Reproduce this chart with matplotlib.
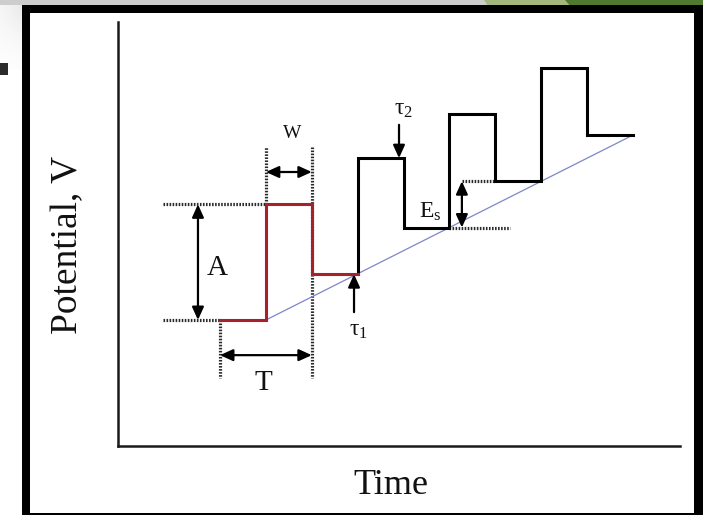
import numpy as np
import matplotlib
matplotlib.use("Agg")
import matplotlib.pyplot as plt
from matplotlib.patches import Rectangle, Polygon

plt.rcParams['font.family'] = ['Liberation Serif', 'DejaVu Serif']
plt.rcParams['mathtext.fontset'] = 'custom'
plt.rcParams['mathtext.rm'] = 'Liberation Serif'
plt.rcParams['mathtext.it'] = 'Liberation Serif'

# ---- data (time in half-periods, potential in step units) ----
step_times = [0, 1, 2, 3, 4, 5, 6, 7, 8, 9]
base_levels = [0, 1, 2, 3, 4]
pulse_levels = [2.5, 3.5, 4.45, 5.45]
ramp_t = [1, 9]
ramp_E = [0, 4]

# dotted guide lines
guide_h = [(2.5, -1.24, 1.0), (0.0, -1.24, 0.0), (2.0, 5.0, 6.32), (3.0, 5.27, 6.0)]
guide_v = [(0.0, 0.0, -1.25), (1.0, 2.5, 3.74), (2.0, 3.74, -1.25)]

# double arrows: (x0, y0, x1, y1)
dbl_arrows = [(1.0, 3.2, 2.0, 3.2), (-0.48, 0.0, -0.48, 2.5),
              (0.0, -0.76, 2.0, -0.76), (5.27, 2.0, 5.27, 3.0)]
# single arrows (from, to)
sgl_arrows = [((2.92, 0.17), (2.92, 0.99)), ((3.90, 4.22), (3.90, 3.50))]

labels = [("W", 1.57, 4.04, 14), ("A", -0.065, 1.12, 21), ("T", 0.94, -1.36, 21),
          (r"E$_\mathrm{s}$", 4.58, 2.34, 17), (r"$\tau_1$", 3.02, -0.22, 17),
          (r"$\tau_2$", 3.99, 4.56, 17)]

# ---- build waveform ----
wt, we = [], []
for k, b in enumerate(base_levels):
    t0 = step_times[2 * k]
    wt += [t0, step_times[2 * k + 1]]
    we += [b, b]
    if k < len(pulse_levels):
        wt += [step_times[2 * k + 1], step_times[2 * k + 2]]
        we += [pulse_levels[k], pulse_levels[k]]
wt = np.array(wt); we = np.array(we)

W, H = 703, 515
fig = plt.figure(figsize=(W / 100, H / 100), dpi=100)
fig.patch.set_facecolor('white')

# background decorations in pixel coords
bg = fig.add_axes([0, 0, 1, 1], zorder=-5)
bg.set_xlim(0, W); bg.set_ylim(H, 0); bg.axis('off')
yy, xx = np.mgrid[0:70, 0:70]
d = np.hypot(xx - 40, yy - 0)
shade = 1 - 0.2 * np.exp(-d / 25)
bg.imshow(shade, cmap='gray', vmin=0, vmax=1, extent=(0, 70, 70, 0), zorder=0)
bg.add_patch(Rectangle((0, 0), 490, 5, color='#cdcdcd', lw=0, zorder=1))
bg.add_patch(Polygon([(484, 0), (570, 0), (575, 6), (488, 6)], color='#a3b87c', lw=0, zorder=1))
bg.add_patch(Polygon([(565, 0), (703, 0), (703, 8), (572, 8)], color='#4f7a2f', lw=0, zorder=1))
bg.add_patch(Rectangle((22, 5), 681, 510, color='black', lw=0, zorder=2))
bg.add_patch(Rectangle((30, 13), 664, 500, color='white', lw=0, zorder=3))
bg.add_patch(Rectangle((0, 63), 8, 12, color='#2b2b2b', lw=0, zorder=3))

# main axes
x_px = (118, 680); y_px = (446, 22)
ax = fig.add_axes([x_px[0] / W, 1 - y_px[0] / H, (x_px[1] - x_px[0]) / W, (y_px[0] - y_px[1]) / H])
ax.set_facecolor('none')
ax.set_xlim((x_px[0] - 220) / 45.9, (x_px[1] - 220) / 45.9)
ax.set_ylim((320 - y_px[0]) / 46.25, (320 - y_px[1]) / 46.25)
for s in ['top', 'right']:
    ax.spines[s].set_visible(False)
for s in ['left', 'bottom']:
    ax.spines[s].set_linewidth(1.8)
    ax.spines[s].set_color('#1a1a1a')
ax.set_xticks([]); ax.set_yticks([])

# ramp
ax.plot(ramp_t, ramp_E, color='#7f86c8', lw=0.9, zorder=2)
# waveform: red first period, black rest
red_n = 6
ax.plot(wt[:red_n], we[:red_n], color='#a8202a', lw=2.2, solid_joinstyle='miter', zorder=4)
ax.plot(np.r_[wt[red_n - 1], wt[red_n:]], np.r_[base_levels[1], we[red_n:]],
        color='black', lw=2.2, solid_joinstyle='miter', zorder=3)

dot = dict(color='#2a2a2a', lw=2.3, linestyle=(0, (0.5, 0.45)), zorder=1)
for e, t0, t1 in guide_h:
    ax.plot([t0, t1], [e, e], **dot)
for t, e0, e1 in guide_v:
    ax.plot([t, t], [e0, e1], **dot)

for x0, y0, x1, y1 in dbl_arrows:
    ax.annotate('', xy=(x1, y1), xytext=(x0, y0),
                arrowprops=dict(arrowstyle='<|-|>,head_length=0.55,head_width=0.25',
                                color='black', lw=1.6, shrinkA=0, shrinkB=0,
                                mutation_scale=14))
for (x0, y0), (x1, y1) in sgl_arrows:
    ax.annotate('', xy=(x1, y1), xytext=(x0, y0),
                arrowprops=dict(arrowstyle='-|>,head_length=0.55,head_width=0.25',
                                color='black', lw=1.6, shrinkA=0, shrinkB=0,
                                mutation_scale=14))

for txt, x, y, fs in labels:
    ax.text(x, y, txt, fontsize=fs, ha='center', va='center', color='#111111')

fig.text(391 / W, 1 - 485 / H, "Time", fontsize=26, ha='center', va='center', color='#111111')
fig.text(68 / W, 1 - 245 / H, "Potential, V", fontsize=27, rotation=90,
         ha='center', va='center', color='#111111')

fig.savefig('out.png', dpi=100)
